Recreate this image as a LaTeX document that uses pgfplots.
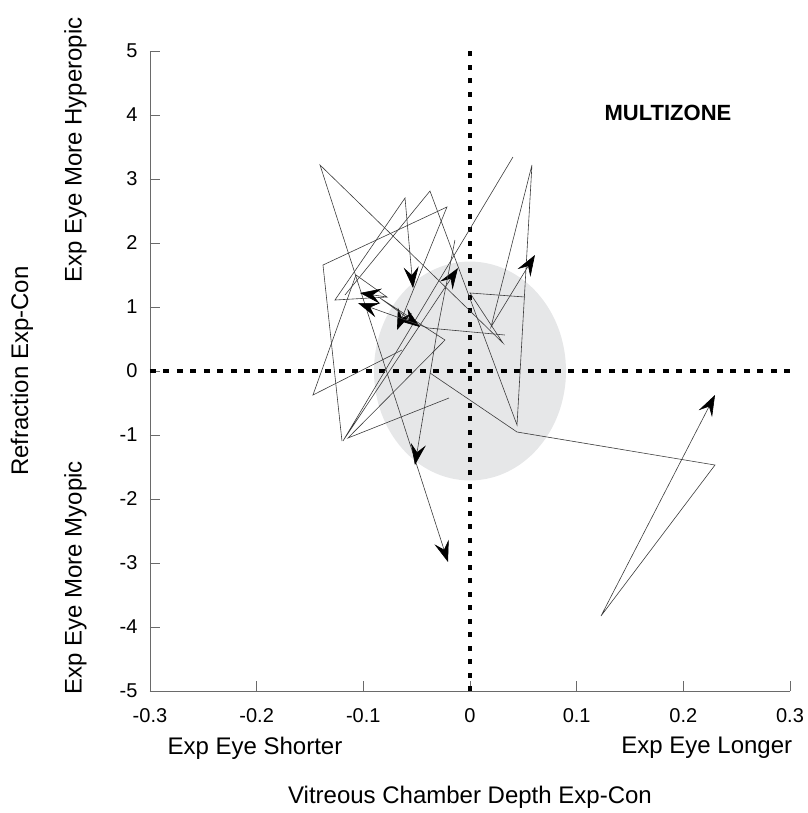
\documentclass[border=0pt]{standalone}
\usepackage{pgfplots}
\pgfplotsset{compat=1.18}
\usepackage{fontspec}
\setmainfont{Liberation Sans}
\usetikzlibrary{arrows.meta}
\definecolor{ellgray}{HTML}{E6E7E8}
\definecolor{trc}{HTML}{3C3C3C}
\definecolor{axc}{HTML}{6A6A6A}
\begin{document}
\begin{tikzpicture}
\begin{axis}[
  scale only axis, width=640pt, height=640pt,
  xmin=-0.3, xmax=0.3, ymin=-5, ymax=5,
  axis x line=bottom, axis y line=left,
  axis line style={-, draw=axc, line width=0.8pt},
  tick align=inside, major tick length=10pt,
  tick style={draw=axc, line width=0.8pt},
  xtick={-0.3,-0.2,-0.1,0,0.1,0.2,0.3},
  xticklabels={-0.3,-0.2,-0.1,0,0.1,0.2,0.3},
  ytick={-5,-4,-3,-2,-1,0,1,2,3,4,5},
  yticklabels={-5,-4,-3,-2,-1,0,1,2,3,4,5},
  ticklabel style={font=\fontsize{20}{22}\selectfont},
  xticklabel style={yshift=-14pt},
  yticklabel style={xshift=-9pt},
  clip=false,
  trace/.style={trc, line width=0.6pt, -{Stealth[black, length=21pt, width=15pt, inset=8pt]}},
]
\fill[ellgray] (axis cs:0,0) ellipse [x radius=0.09, y radius=1.71];
\addplot[black, line width=3.4pt, dash pattern=on 5pt off 8.5pt] coordinates {(0,-5) (0,5)};
\addplot[black, line width=3.4pt, dash pattern=on 6pt off 7.5pt] coordinates {(-0.3,0) (0.3,0)};

% traces (one per animal), each ends in an arrowhead
\addplot[trace] coordinates {(-0.0375,-0.031) (0.0441,-0.953) (0.2297,-1.469) (0.1228,-3.828) (0.2297,-0.375)};
\addplot[trace] coordinates {(-0.1172,1.1875) (-0.0375,2.8125) (0.0441,-0.844) (0.0581,3.219) (0.0197,0.6875) (0.0609,1.8125)};
\addplot[trace] coordinates {(0.0403,3.344) (-0.1191,-1.094) (-0.0113,1.609)};
\addplot[trace] coordinates {(-0.0778,1.156) (-0.1266,1.109) (-0.0609,2.703) (-0.0534,1.297)};
\addplot[trace] coordinates {(-0.1200,-1.094) (-0.1378,1.656) (-0.0216,2.5625) (-0.0684,0.641)};
\addplot[trace] coordinates {(0.0516,1.156) (0,1.219) (0.0309,0.4375) (-0.1406,3.219) (-0.0206,-2.984)};
\addplot[trace] coordinates {(-0.0638,0.328) (-0.1472,-0.375) (-0.1069,1.5) (-0.0778,1.156) (-0.1031,1.219)};
\addplot[trace] coordinates {(-0.0197,-0.422) (-0.1144,-1.047) (-0.0234,0.484) (-0.0844,1.141) (-0.0469,0.6875)};
\addplot[trace] coordinates {(-0.0141,2.047) (-0.0309,0.609) (-0.0516,-1.469)};
\addplot[trace] coordinates {(0.0328,0.5625) (-0.0394,0.672) (-0.1050,1.0625)};

\node[font=\fontsize{22}{26}\selectfont\bfseries] at (axis cs:0.1856,4.03) {MULTIZONE};
\node[rotate=90, font=\fontsize{24}{28}\selectfont] at (axis cs:-0.42,0) {Refraction Exp-Con};
\node[rotate=90, font=\fontsize{24}{28}\selectfont] at (axis cs:-0.370,3.45) {Exp Eye More Hyperopic};
\node[rotate=90, font=\fontsize{24}{28}\selectfont] at (axis cs:-0.370,-3.23) {Exp Eye More Myopic};
\node[font=\fontsize{24}{28}\selectfont] at (axis cs:-0.2016,-5.89) {Exp Eye Shorter};
\node[font=\fontsize{24}{28}\selectfont] at (axis cs:0.222,-5.89) {Exp Eye Longer};
\node[font=\fontsize{24}{28}\selectfont] at (axis cs:0,-6.656) {Vitreous Chamber Depth Exp-Con};
\path (axis cs:-0.4406,5.797) (axis cs:0.3131,-6.906);
\end{axis}
\end{tikzpicture}
\end{document}
